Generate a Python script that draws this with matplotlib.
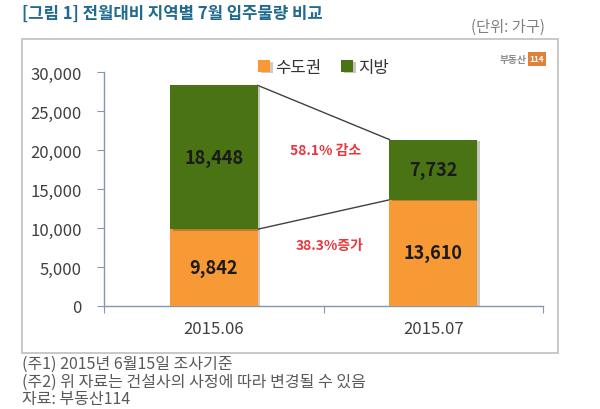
import matplotlib
matplotlib.use("Agg")
import matplotlib.pyplot as plt
import matplotlib.patheffects as pe
from matplotlib.patches import Rectangle

plt.rcParams['font.family'] = ['Noto Sans CJK KR', 'DejaVu Sans']

# 데이터
months = ['2015.06', '2015.07']
sudogwon = [9842, 13610]   # 수도권
jibang = [18448, 7732]     # 지방
yticks = [0, 5000, 10000, 15000, 20000, 25000, 30000]
change_labels = ['58.1% 감소', '38.3%증가']

orange = '#F79A36'
green = '#4A7414'
axis_col = '#8497B0'

fig = plt.figure(figsize=(6, 4.1), dpi=100)
ax = fig.add_axes([104/600, 1 - 307/410, (543 - 104)/600, (307 - 73)/410])

x = list(range(len(months)))
w = 0.4
shadow = [pe.SimplePatchShadow(offset=(2, -1), alpha=0.25), pe.Normal()]
b1 = ax.bar(x, sudogwon, w, color=orange, label='수도권', zorder=3)
b2 = ax.bar(x, jibang, w, bottom=sudogwon, color=green, label='지방', zorder=3)
for p in list(b1) + list(b2):
    p.set_path_effects(shadow)

# 연결선
tot = [s + j for s, j in zip(sudogwon, jibang)]
ax.plot([x[0] + w/2, x[1] - w/2], [tot[0], tot[1]], color='#404040', lw=1, zorder=2)
ax.plot([x[0] + w/2, x[1] - w/2], [sudogwon[0], sudogwon[1]], color='#404040', lw=1, zorder=2)

# 막대 안 값
for i in x:
    ax.text(i, sudogwon[i] / 2, f'{sudogwon[i]:,}', ha='center', va='center',
            fontsize=13, fontweight='bold', color='#1a1a1a', zorder=4)
    ax.text(i, sudogwon[i] + jibang[i] / 2, f'{jibang[i]:,}', ha='center', va='center',
            fontsize=13, fontweight='bold', color='#1a1a1a', zorder=4)

# 증감 표시
ax.text(0.51, 20000, change_labels[0], ha='center', va='center', fontsize=10,
        fontweight='bold', color='#E8383D')
ax.text(0.53, 7800, change_labels[1], ha='center', va='center', fontsize=10,
        fontweight='bold', color='#E8383D')

ax.set_xlim(-0.5, 1.5)
ax.set_ylim(0, 30000)
ax.set_yticks(yticks)
ax.set_yticklabels([f'{v:,}' for v in yticks], fontsize=12, color='#404040')
ax.set_xticks([-0.5, 0.5, 1.5])
ax.set_xticklabels([])
ax.set_xticks(x, minor=True)
ax.set_xticklabels(months, minor=True, fontsize=12, color='#404040')
ax.tick_params(axis='x', which='minor', length=0, pad=10)
ax.tick_params(axis='x', which='major', length=5, color=axis_col, direction='out')
ax.tick_params(axis='y', length=5, color=axis_col, pad=11)
for s in ['top', 'right']:
    ax.spines[s].set_visible(False)
for s in ['left', 'bottom']:
    ax.spines[s].set_color(axis_col)
    ax.spines[s].set_linewidth(1)

leg = ax.legend(loc='upper center', bbox_to_anchor=(0.5, 1.12), ncol=2, frameon=False,
                fontsize=12, handlelength=0.7, handleheight=0.7, handletextpad=0.3,
                columnspacing=1.2)
for t in leg.get_texts():
    t.set_color('#333333')

# 바깥 테두리
fig.patches.append(Rectangle((22/600, 1 - 354/410), (558 - 22)/600, (354 - 40)/410,
                             transform=fig.transFigure, fill=False, edgecolor='#BFBFBF', lw=1.2))

# 제목 및 주석
fig.text(22/600, 1 - 14/410, '[그림 1] 전월대비 지역별 7월 입주물량 비교', fontsize=12,
         fontweight='bold', color='#1F6A8E', va='center', ha='left')
fig.text(545/600, 1 - 27/410, '(단위: 가구)', fontsize=11, color='#808080',
         va='center', ha='right')

# 로고
fig.text(527/600, 1 - 60/410, '부동산', fontsize=7, fontweight='bold', color='#8C8C8C',
         va='center', ha='right')
fig.text(537/600, 1 - 60/410, '114', fontsize=6, fontweight='bold', color='white',
         va='center', ha='center',
         bbox=dict(boxstyle='square,pad=0.25', fc='#E0803A', ec='none'))

notes = ['(주1) 2015년 6월15일 조사기준',
         '(주2) 위 자료는 건설사의 사정에 따라 변경될 수 있음',
         '자료: 부동산114']
for k, n in enumerate(notes):
    fig.text(22/600, 1 - (364 + 18 * k)/410, n, fontsize=11.5, color='#595959',
             va='center', ha='left')

fig.savefig('out.png', dpi=100)
